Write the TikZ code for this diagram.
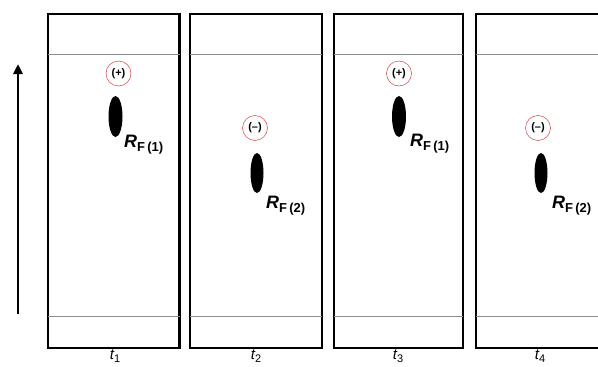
\documentclass[tikz,border=0pt]{standalone}
\usepackage{fontspec}
\setmainfont{Liberation Sans}
\usetikzlibrary{arrows.meta}
\newcommand{\rflab}[1]{{\fontsize{18}{20}\selectfont\bfseries\itshape R}\raisebox{-4pt}{\fontsize{13}{14}\selectfont\bfseries F\,(#1)}}
\newcommand{\tlabtxt}[1]{{\fontsize{15}{16}\selectfont\itshape t}\raisebox{-3pt}{\fontsize{11}{12}\selectfont #1}}
\begin{document}
\begin{tikzpicture}[x=1pt,y=-1pt,
  frame/.style={draw=black,line width=2.6pt},
  level/.style={draw=black!45,line width=0.7pt},
  charge/.style={circle,draw=red!75!black!75,line width=0.5pt,minimum size=25pt,inner sep=0pt,font=\bfseries\fontsize{11}{12}\selectfont},
  rlab/.style={anchor=base west,inner sep=0pt},
  tlab/.style={anchor=base,inner sep=0pt}]
\useasboundingbox (0,0) rectangle (598,367);
\clip (0,0) rectangle (598,367);
% frames
\foreach \l/\r [count=\i] in {48/179.5,190/322,334/463,476/608}{
  \draw[frame] (\l,14) rectangle (\r,348);
  \draw[level] (\l,54) -- (\r,54);
  \draw[level] (\l,316) -- (\r,316);
}
% arrow
\coordinate (a0) at (18,314);
\coordinate (a1) at (18,64);
\draw[line width=2.8pt,-{Triangle[length=10pt,width=9pt]}] (a0) -- (a1);
% charges
\node[charge] (c1) at (118.5,73.5) {(+)};
\node[charge] (c2) at (255,128) {(–)};
\node[charge] (c3) at (399,73.5) {(+)};
\node[charge] (c4) at (538,128) {(–)};
% blobs
\fill (115.5,116.5) ellipse (7pt and 20.5pt);
\fill (257,173) ellipse (6.5pt and 20pt);
\fill (399,116.5) ellipse (7pt and 20.5pt);
\fill (541,173) ellipse (6.5pt and 20pt);
% labels
\node[rlab] (r1) at (124,147) {\rflab{1}};
\node[rlab] (r2) at (266,208) {\rflab{2}};
\node[rlab] (r3) at (410,146) {\rflab{1}};
\node[rlab] (r4) at (552,208) {\rflab{2}};
\node[tlab] (t1) at (115,359) {\tlabtxt{1}};
\node[tlab] (t2) at (256,359) {\tlabtxt{2}};
\node[tlab] (t3) at (398,359) {\tlabtxt{3}};
\node[tlab] (t4) at (540,359) {\tlabtxt{4}};
\end{tikzpicture}
\end{document}
